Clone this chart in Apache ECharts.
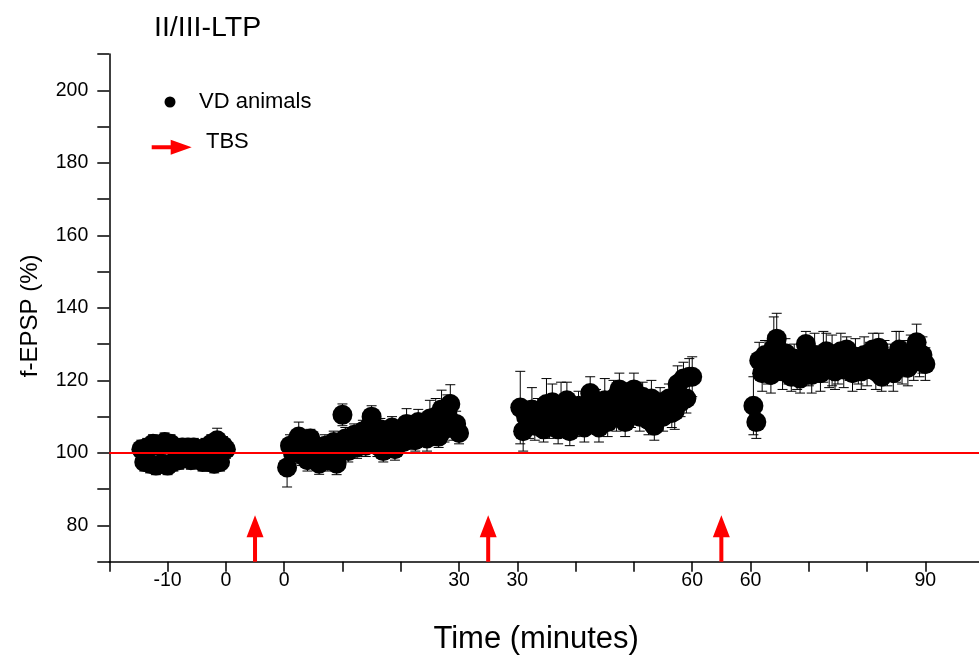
<!DOCTYPE html>
<html>
<head>
<meta charset="utf-8">
<script src="https://cdn.jsdelivr.net/npm/echarts@6/dist/echarts.min.js"></script>
<style>html,body{margin:0;padding:0;background:#fff}#c{width:979px;height:658px}</style>
</head>
<body>
<div id="c"></div>
<script>
// ---- data: [time (min), mean f-EPSP (%), SEM] ----
const baseline = [
  [-14.5,101,2.5],[-14,97.5,2.5],[-13.5,101.5,2.5],[-13,97,2.5],[-12.5,102.5,2.5],[-12,96.5,2.5],
  [-11.5,102,2.5],[-11,97,2.5],[-10.5,103,2.5],[-10,96.5,2.5],[-9.5,102.5,2.5],[-9,97.5,2.5],
  [-8.5,101,2.5],[-8,98,2.5],[-7.5,101.5,2.5],[-7,99,2.5],[-6.5,101.5,2.5],[-6,98,2.5],
  [-5.5,101.5,2.5],[-5,98.5,2.5],[-4.5,101,2.5],[-4,97.5,2.5],[-3.5,101.5,2.5],[-3,97.5,2.5],
  [-2.5,102.5,2.5],[-2,97,2.5],[-1.5,103.5,3.3],[-1,97.5,2.5],[-0.5,102,2.5],[0,101,2.5]
];
const post1 = [
  [0.5,96,5.4],[1,102,3],[1.5,100,3],[2,103,3],[2.5,104.5,4],[3,99.5,3],[3.5,101,3],[4,98,3],
  [4.5,104,2.5],[5,100,3],[5.5,98.5,3],[6,97,2.9],[6.5,99.5,3],[7,102,3],[7.5,98,3],[8,101.5,3],
  [8.5,103,3],[9,97,3],[9.5,102,3],[10,110.5,3],[10.5,104,3],[11,100.5,3],[11.5,103.5,3],[12,105,3],
  [12.5,101.5,3],[13,104,3],[13.5,106,3],[14,102,3],[14.5,107,3],[15,110,3],[15.5,104.5,3],[16,102,3],
  [16.5,106.5,3],[17,100.5,3],[17.5,105,3],[18,103,3],[18.5,107,3],[19,101,3],[19.5,104.5,3],[20,106,3],
  [20.5,103,3],[21,108,4.2],[21.5,104,3],[22,106.5,3],[22.5,103.5,3],[23,108.5,3.5],[23.5,105,3],[24,107,3],
  [24.5,104,3.5],[25,109.5,5],[25.5,105,3],[26,110,5],[26.5,104.5,3],[27,112,5.3],[27.5,106.5,3.5],[28,111,5],
  [28.5,113.5,5.3],[29,107,3.5],[29.5,108,3.5],[30,105.5,3]
];
const post2 = [
  [30.5,112.5,10],[31,106,5.5],[31.5,110,4],[32,108,4],[32.5,112,6],[33,107.5,4],[33.5,111,4],[34,109,4],
  [34.5,106.5,3.5],[35,113.5,7],[35.5,108,4],[36,114,5],[36.5,110,4],[37,106.5,4],[37.5,112.5,7],[38,109,4],
  [38.5,114.5,5],[39,106,4],[39.5,111,4],[40,108.5,4],[40.5,113,4],[41,110,4],[41.5,107,4],[42,112,4],
  [42.5,116.5,4.5],[43,109.5,4],[43.5,113.5,4],[44,107,4],[44.5,111.5,4],[45,114.5,6],[45.5,108.5,4],[46,112,4],
  [46.5,115,5],[47,110,4],[47.5,117.5,4.5],[48,112,4],[48.5,108.5,4],[49,114,4],[49.5,111,4],[50,117.5,4.5],
  [50.5,113,4],[51,110,4],[51.5,115.5,4],[52,112,4],[52.5,109,4],[53,115,5],[53.5,107.5,4],[54,111.5,4],
  [54.5,114,4],[55,110,4],[55.5,112.5,4],[56,115,4],[56.5,111,4],[57,111.5,5],[57.5,119,5],[58,114,4],
  [58.5,120.5,4.5],[59,115,4],[59.5,121,5],[60,121,5.5]
];
const post3 = [
  [60.5,113,8],[61,108.5,4.5],[61.5,125.5,5],[62,122,5],[62.5,127,4],[63,124,5],[63.5,121.5,5],[64,129,8.5],
  [64.5,131.5,7],[65,125,5],[65.5,122.5,5],[66,127.5,4],[66.5,124,5],[67,121,4],[67.5,126,4],[68,122.5,5],
  [68.5,120.5,4],[69,125,4],[69.5,130,3.5],[70,123.5,5],[70.5,121.5,5],[71,127,6],[71.5,124.5,5],[72,122,5],
  [72.5,126.5,7],[73,128,5],[73.5,123,5],[74,125.5,7],[74.5,122.5,5],[75,124,5],[75.5,128,5],[76,123,5],
  [76.5,128.5,3.5],[77,125,5],[77.5,122,5],[78,126.5,5],[78.5,124,5],[79,122.5,5],[79.5,127,5],[80,123.5,5],
  [80.5,125.5,5],[81,128.5,4.5],[81.5,122.5,5],[82,129,4],[82.5,121,4],[83,126,5],[83.5,123.5,5],[84,125,5],
  [84.5,122,5],[85,126.5,7],[85.5,128.5,5],[86,124,5],[86.5,126,5],[87,123.5,5],[87.5,127.5,5],[88,125,5],
  [88.5,130.5,5],[89,126,5],[89.5,127,5],[90,124.5,4.5]
];
const segments = [baseline, post1, post2, post3];
const segmentOffsets = [0, 10, 20, 30];          // gaps inserted between the broken axis segments
const tbsPositions = [5, 45, 85];                // TBS arrows (axis position, inside the gaps)
const arrowFrom = 70, arrowTo = 82.8;            // arrow extent in % units
const baselineLevel = 100;
const xTickValues = [-20,-10,0,10,20,30,40,50,60,70,80,90,100,110,120];
const xLabelValues = [-10,0,10,40,50,80,90,120];
const xLabelTexts = ['-10','0','0','30','30','60','60','90'];
const yMin = 70, yMax = 210, yStep = 10;

// ---- build ----
const pts = [];
segments.forEach((seg, i) => seg.forEach(([t, m, e]) => pts.push([t + segmentOffsets[i], m, e])));
const scatterData = pts.map(p => [p[0], p[1]]);
const errData = pts.map(p => [p[0], p[1] - p[2], p[1] + p[2]]);
const arrowData = tbsPositions.map(v => [v, arrowFrom, arrowTo]);

const FONT = '"Liberation Sans", Arial, sans-serif';
const chart = echarts.init(document.getElementById('c'), null, {renderer: 'canvas'});

function drawArrow(x0, y0, x1, y1, headLen, headW, shaftW, color) {
  const dx = x1 - x0, dy = y1 - y0, L = Math.hypot(dx, dy);
  const ux = dx / L, uy = dy / L, nx = -uy, ny = ux;
  const bx = x1 - ux * headLen, by = y1 - uy * headLen;
  return {
    type: 'polygon',
    shape: {points: [
      [x0 + nx * shaftW / 2, y0 + ny * shaftW / 2],
      [bx + nx * shaftW / 2, by + ny * shaftW / 2],
      [bx + nx * headW / 2, by + ny * headW / 2],
      [x1, y1],
      [bx - nx * headW / 2, by - ny * headW / 2],
      [bx - nx * shaftW / 2, by - ny * shaftW / 2],
      [x0 - nx * shaftW / 2, y0 - ny * shaftW / 2]
    ]},
    style: {fill: color}
  };
}

const option = {
  backgroundColor: '#fff',
  animation: false,
  textStyle: {fontFamily: FONT},
  title: {
    text: 'II/III-LTP', left: 149, top: 9,
    textStyle: {fontFamily: FONT, fontSize: 28.5, fontWeight: 'normal', color: '#000'}
  },
  grid: {left: 109.3, right: 0, top: 54, bottom: 96.3, containLabel: false, outerBoundsMode: 'none'},
  xAxis: {
    type: 'value', min: -20, max: 129.2,
    name: 'Time (minutes)', nameLocation: 'middle', nameGap: 62,
    nameTextStyle: {fontFamily: FONT, fontSize: 31, color: '#000', padding: [0, 16, 0, 0]},
    axisLine: {onZero: false, lineStyle: {color: '#000', width: 1.5}},
    axisTick: {length: 10, customValues: xTickValues, lineStyle: {color: '#000', width: 1.5}},
    axisLabel: {
      customValues: xLabelValues, margin: 9, fontSize: 19.5, color: '#000', fontFamily: FONT,
      formatter: v => { const i = xLabelValues.indexOf(v); return i >= 0 ? xLabelTexts[i] : ''; }
    },
    splitLine: {show: false}
  },
  yAxis: {
    type: 'value', min: yMin, max: yMax, interval: yStep,
    name: 'f-EPSP (%)', nameLocation: 'middle', nameGap: 67,
    nameTextStyle: {fontFamily: FONT, fontSize: 24, color: '#000', padding: [0, 16, 0, 0]},
    axisLine: {show: true, onZero: false, lineStyle: {color: '#000', width: 1.5}},
    axisTick: {show: true, length: 12, lineStyle: {color: '#000', width: 1.5}},
    axisLabel: {
      margin: 21, fontSize: 19.5, color: '#000', fontFamily: FONT, showMinLabel: true, showMaxLabel: true,
      formatter: v => (v % 20 === 0 && v >= 80 && v <= 200) ? String(v) : ''
    },
    splitLine: {show: false}
  },
  graphic: [
    {type: 'circle', shape: {cx: 170, cy: 102, r: 5.5}, style: {fill: '#000'}, z: 10},
    {type: 'text', x: 199, y: 102, style: {text: 'VD animals', fill: '#000', font: '22px ' + FONT, verticalAlign: 'middle'}, z: 10},
    Object.assign(drawArrow(151.7, 147.3, 191.7, 147.3, 21, 15, 4, '#ff0000'), {z: 10}),
    {type: 'text', x: 206, y: 142, style: {text: 'TBS', fill: '#000', font: '22px ' + FONT, verticalAlign: 'middle'}, z: 10}
  ],
  series: [
    {
      name: 'SEM', type: 'custom', z: 1, silent: true,
      data: errData, encode: {x: 0, y: [1, 2]},
      renderItem: (params, api) => {
        const x = api.value(0);
        const p1 = api.coord([x, api.value(2)]);
        const p2 = api.coord([x, api.value(1)]);
        const hw = 5, st = {stroke: '#000', lineWidth: 1};
        return {type: 'group', children: [
          {type: 'line', shape: {x1: p1[0], y1: p1[1], x2: p2[0], y2: p2[1]}, style: st},
          {type: 'line', shape: {x1: p1[0] - hw, y1: p1[1], x2: p1[0] + hw, y2: p1[1]}, style: st},
          {type: 'line', shape: {x1: p2[0] - hw, y1: p2[1], x2: p2[0] + hw, y2: p2[1]}, style: st}
        ]};
      }
    },
    {
      name: 'VD animals', type: 'scatter', z: 2, symbol: 'circle', symbolSize: 20,
      itemStyle: {color: '#000', opacity: 1},
      data: scatterData,
      markLine: {
        silent: true, symbol: ['none', 'none'], label: {show: false},
        lineStyle: {color: '#ff0000', width: 2, type: 'solid'},
        data: [{yAxis: baselineLevel}]
      }
    },
    {
      name: 'TBS', type: 'custom', z: 3, silent: true,
      data: arrowData, encode: {x: 0, y: [1, 2]},
      renderItem: (params, api) => {
        const x = api.value(0);
        const a = api.coord([x, api.value(1)]);
        const b = api.coord([x, api.value(2)]);
        return drawArrow(a[0], a[1], b[0], b[1], 22, 17, 4, '#ff0000');
      }
    }
  ]
};
chart.setOption(option);
</script>
</body>
</html>
